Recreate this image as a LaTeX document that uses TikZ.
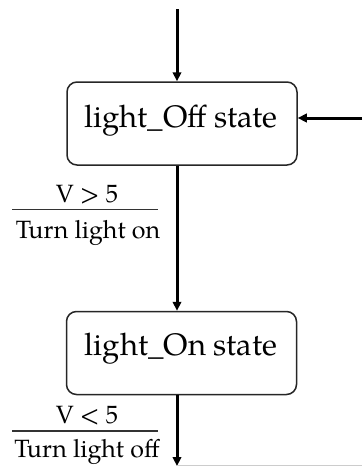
\documentclass[tikz,border=0pt]{standalone}
\usepackage{fontspec}
\setmainfont{TeX Gyre Pagella}
\usetikzlibrary{arrows.meta}
\tikzset{
  statebox/.style={draw=black!85, line width=1.5pt, rounded corners=10pt,
    minimum width=230pt, minimum height=83pt, inner sep=0pt},
  statetext/.style={anchor=base, inner sep=0pt,
    font=\fontsize{31}{36}\selectfont},
  guardtext/.style={anchor=base, inner sep=0pt,
    font=\fontsize{25}{30}\selectfont},
  flow/.style={line width=3pt, -{Triangle[length=9pt, width=8.5pt]}},
  guardrule/.style={line width=1.3pt, black!80},
}
\begin{document}
\begin{tikzpicture}[x=1pt, y=-1pt]
  \useasboundingbox (0,0) rectangle (362,466);

  % states
  \node[statebox] (off) at (182,123.5) {};
  \node[statetext] (offtxt) at (181,127) {light\_Off state};
  \node[statebox] (on) at (181.5,353) {};
  \node[statetext] (ontxt) at (181,355) {light\_On state};

  % free ends of the entry, return and exit transitions
  \coordinate (entry) at (177,9);
  \coordinate (back) at (362,118);
  \coordinate (exit) at (177,466);
  \coordinate (edge) at (362,465.5);

  \draw[flow] (entry) -- (entry |- off.north);
  \draw[flow] (back) -- (off.east |- back);
  \draw[flow] (off.south -| entry) -- (on.north -| entry);
  \draw[flow] (on.south -| entry) -- (exit);
  \draw[line width=0.8pt, black!20] (exit |- edge) -- (edge);

  % guard / action labels
  \node[guardtext] (g1) at (87,202) {V > 5};
  \draw[guardrule] (12,209.5) -- (158,209.5);
  \node[guardtext] (a1) at (88,238) {Turn light on};

  \node[guardtext] (g2) at (87,423) {V < 5};
  \draw[guardrule] (12,431) -- (158,431);
  \node[guardtext] (a2) at (87,457) {Turn light off};
\end{tikzpicture}
\end{document}
